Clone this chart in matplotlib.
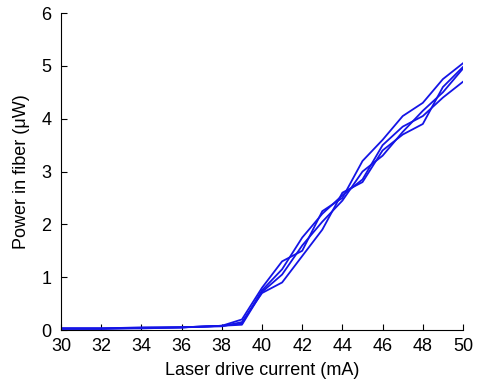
import matplotlib
matplotlib.use("Agg")
import matplotlib.pyplot as plt

current = [30, 32, 34, 36, 38, 39, 40, 41, 42, 43, 44, 45, 46, 47, 48, 49, 50]

power_a = [0.03, 0.03, 0.04, 0.05, 0.08, 0.20, 0.80, 1.30, 1.50, 2.25, 2.50, 3.20, 3.60, 4.05, 4.30, 4.75, 5.05]
power_b = [0.03, 0.03, 0.03, 0.05, 0.08, 0.12, 0.75, 1.15, 1.75, 2.20, 2.55, 2.85, 3.50, 3.85, 4.05, 4.40, 4.70]
power_c = [0.02, 0.02, 0.04, 0.05, 0.07, 0.15, 0.70, 0.90, 1.40, 1.90, 2.60, 2.80, 3.40, 3.70, 3.90, 4.60, 4.98]
power_d = [0.03, 0.03, 0.05, 0.05, 0.08, 0.10, 0.72, 1.05, 1.60, 2.05, 2.45, 3.00, 3.30, 3.75, 4.15, 4.50, 4.95]

plt.rcParams['font.family'] = ['Liberation Sans', 'DejaVu Sans']

fig = plt.figure(figsize=(4.82, 3.84), dpi=100)
ax = fig.add_axes([0.1266, 0.1406, 0.834, 0.8254])

for p in [power_a, power_b, power_c, power_d]:
    ax.plot(current, p, color="#1414e6", linewidth=1.3)

ax.set_xlim(30, 50)
ax.set_ylim(0, 6)
ax.set_xticks(range(30, 51, 2))
ax.set_yticks(range(0, 7))
ax.spines["top"].set_visible(False)
ax.spines["right"].set_visible(False)
ax.tick_params(direction="in", length=4, labelsize=13)
ax.tick_params(axis="x", pad=6)
ax.tick_params(axis="y", pad=7)
ax.set_xlabel("Laser drive current (mA)", fontsize=13, labelpad=5)
ax.set_ylabel("Power in fiber (\u03bcW)", fontsize=13, labelpad=8)

fig.savefig("out.png", dpi=100)
